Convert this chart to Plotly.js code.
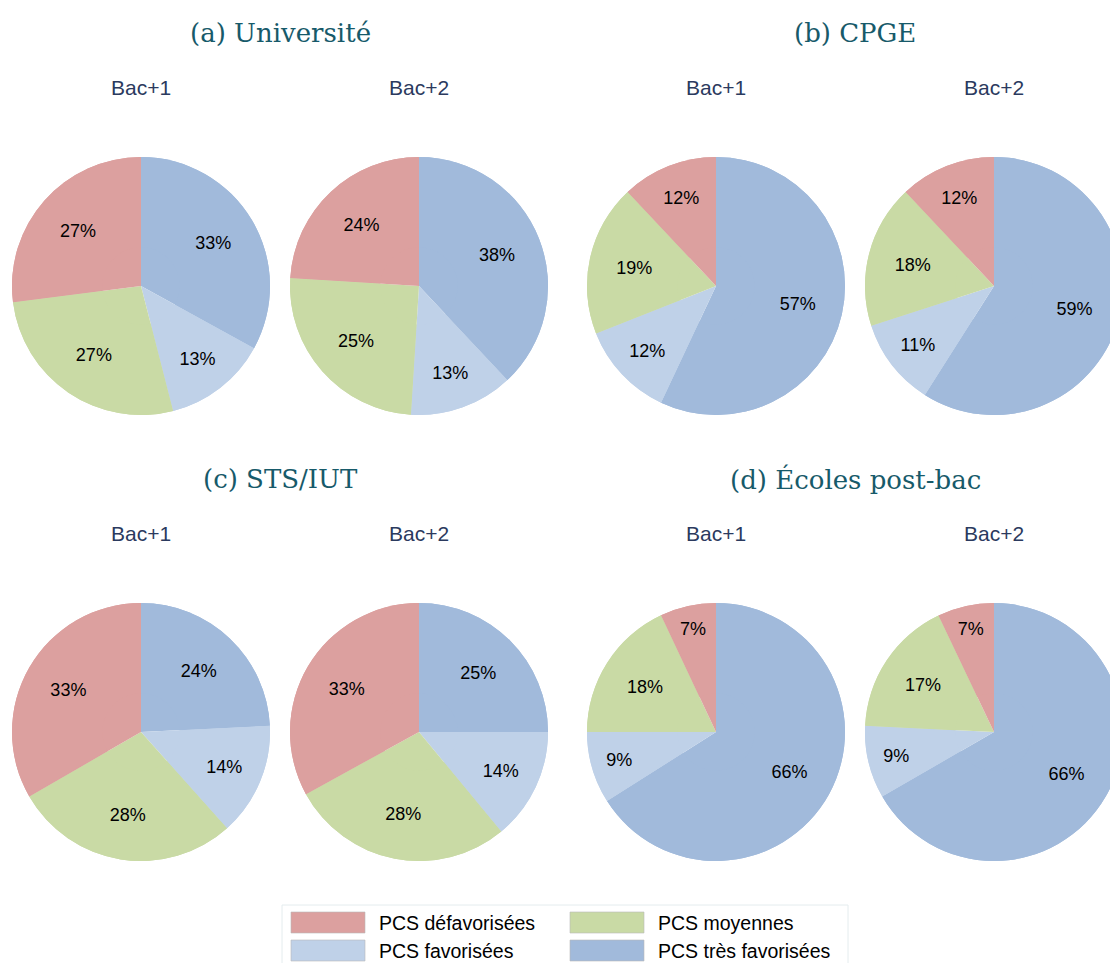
<!DOCTYPE html>
<html>
<head>
<meta charset="utf-8">
<script src="https://cdn.plot.ly/plotly-3.0.1.min.js"></script>
<style>
html,body{margin:0;padding:0;overflow:hidden;background:#fff;}
#chart{width:1125px;height:963px;}
</style>
</head>
<body>
<div id="chart"></div>
<script>
// Categories (clockwise from 12 o'clock)
const categories = ["PCS très favorisées", "PCS favorisées", "PCS moyennes", "PCS défavorisées"];
const colors = ["#a1badb", "#bfd1e8", "#c9daa5", "#dca09f"];

const panelTitles = ["(a) Université", "(b) CPGE", "(c) STS/IUT", "(d) Écoles post-bac"];
const subTitles = ["Bac+1", "Bac+2"];

// Values (%) for each panel: [Bac+1, Bac+2], in category order
const universite_bac1 = [33, 13, 27, 27];
const universite_bac2 = [38, 13, 25, 24];
const cpge_bac1 = [57, 12, 19, 12];
const cpge_bac2 = [59, 11, 18, 12];
const stsiut_bac1 = [24, 14, 28, 33];
const stsiut_bac2 = [25, 14, 28, 33];
const ecoles_bac1 = [66, 9, 18, 7];
const ecoles_bac2 = [66, 9, 17, 7];

const legendOrder = ["PCS défavorisées", "PCS moyennes", "PCS favorisées", "PCS très favorisées"];

const W = 1125, H = 963;
const R = 129;
const colX = [141, 419, 716, 994];
const rowY = [286, 732];

const panels = [
  [universite_bac1, universite_bac2],
  [cpge_bac1, cpge_bac2],
  [stsiut_bac1, stsiut_bac2],
  [ecoles_bac1, ecoles_bac2]
];

const px = x => x / W;
const py = y => 1 - y / H;

const data = [];
const annotations = [];
const shapes = [];

panels.forEach((pair, p) => {
  const row = Math.floor(p / 2);
  const col = (p % 2) * 2;
  pair.forEach((vals, k) => {
    const cx = colX[col + k], cy = rowY[row];
    const dom = {x: [px(cx - R), px(cx + R)], y: [py(cy + R), py(cy - R)]};
    // full pie (fills centre)
    data.push({
      type: "pie", labels: categories, values: vals, sort: false,
      direction: "clockwise", rotation: 0,
      marker: {colors: colors, line: {width: 0}},
      textinfo: "none", hoverinfo: "none", showlegend: false, domain: dom
    });
    // ring on top carrying the labels further out
    data.push({
      type: "pie", labels: categories, values: vals, sort: false,
      direction: "clockwise", rotation: 0, hole: 0.3,
      marker: {colors: colors, line: {width: 0}},
      texttemplate: "%{value}%",
      textposition: "inside",
      insidetextorientation: "horizontal",
      textfont: {family: "Liberation Sans, Arial, sans-serif", size: 18, color: "#000"},
      hoverinfo: "none", showlegend: false, domain: dom
    });
    annotations.push({
      xref: "paper", yref: "paper", x: px(cx), y: py(rowY[row] - 199),
      text: subTitles[k], showarrow: false, xanchor: "center", yanchor: "middle",
      font: {family: "Liberation Sans, Arial, sans-serif", size: 21, color: "#2b3a5e"}
    });
  });
  const tx = (colX[col] + colX[col + 1]) / 2;
  annotations.push({
    xref: "paper", yref: "paper", x: px(tx), y: py(rowY[row] - 253),
    text: panelTitles[p], showarrow: false, xanchor: "center", yanchor: "middle",
    font: {family: "DejaVu Serif, serif", size: 26, color: "#175a6a"}
  });
});

// Legend box (manual)
shapes.push({type: "rect", xref: "paper", yref: "paper",
  x0: px(282), x1: px(848), y0: py(972), y1: py(905),
  line: {color: "#e4ecee", width: 1}, fillcolor: "rgba(0,0,0,0)"});
const legPos = [[291, 912], [570, 912], [291, 940], [570, 940]];
legendOrder.forEach((name, i) => {
  const ci = categories.indexOf(name);
  const [lx, ly] = legPos[i];
  shapes.push({type: "rect", xref: "paper", yref: "paper",
    x0: px(lx), x1: px(lx + 74), y0: py(ly + 21), y1: py(ly),
    fillcolor: colors[ci], line: {color: "#b9b9b9", width: 0.6}});
  annotations.push({xref: "paper", yref: "paper", x: px(lx + 86), y: py(ly + 11),
    text: name, showarrow: false, xanchor: "left", yanchor: "middle",
    font: {family: "Liberation Sans, Arial, sans-serif", size: 19.5, color: "#000"}});
});

const layout = {
  width: W, height: H,
  margin: {l: 0, r: 0, t: 0, b: 0},
  paper_bgcolor: "#ffffff",
  showlegend: false,
  annotations: annotations,
  shapes: shapes
};

Plotly.newPlot("chart", data, layout, {displayModeBar: false, staticPlot: true});
</script>
</body>
</html>
